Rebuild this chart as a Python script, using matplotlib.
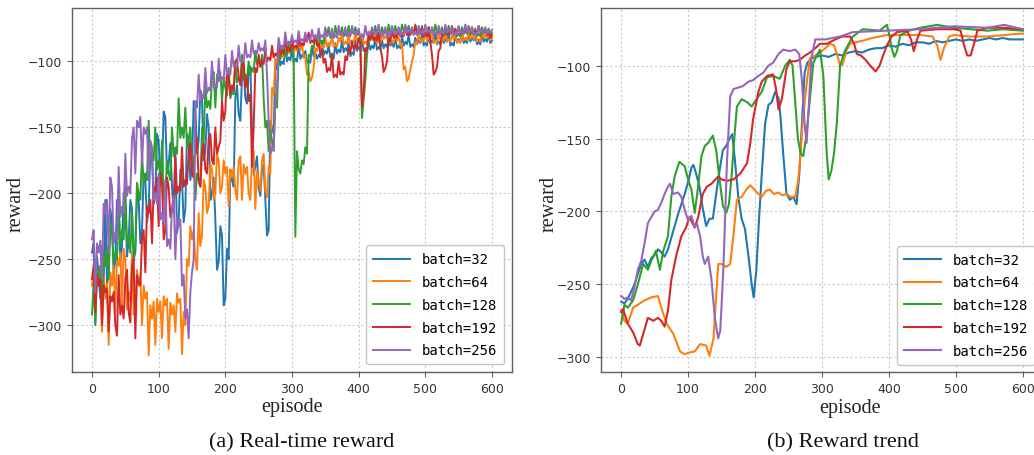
import matplotlib
matplotlib.use("Agg")
import matplotlib.pyplot as plt

# ---------------- data ----------------
labels = ["batch=32", "batch=64", "batch=128", "batch=192", "batch=256"]
colors = ["#1f77b4", "#ff7f0e", "#2ca02c", "#d62728", "#9467bd"]

# (a) real-time reward: values at episodes 0,5,...,600 and at 2.5,7.5,...,597.5
raw_episodes = list(range(0, 601, 5))
mid_episodes = [e + 2.5 for e in range(0, 600, 5)]

raw_32 = [
    -245, -300, -262, -240, -205, -258, -222, -250, -215, -240,
    -208, -236, -212, -245, -205, -228, -190, -212, -172, -200,
    -160, -185, -142, -178, -195, -168, -222, -190, -212, -160,
    -180, -135, -160, -128, -168, -150, -200, -220, -252, -232,
    -280, -250, -190, -128, -140, -112, -128, -108, -150, -180,
    -196, -182, -205, -228, -150, -102, -92, -100, -88, -97,
    -90, -98, -88, -95, -92, -99, -88, -93, -95, -86,
    -92, -88, -95, -86, -91, -84, -90, -86, -93, -84,
    -89, -83, -90, -85, -88, -82, -89, -84, -87, -81,
    -86, -82, -88, -81, -85, -80, -87, -82, -84, -79,
    -86, -80, -84, -79, -85, -80, -83, -78, -86, -80,
    -83, -78, -84, -79, -82, -80, -85, -79, -83, -80, -84]
mid_32 = [
    -238, -248, -280, -268, -270, -212, -262, -205, -252, -200,
    -248, -205, -250, -200, -238, -185, -222, -168, -208, -155,
    -192, -138, -185, -162, -215, -230, -182, -222, -155, -190,
    -130, -170, -122, -175, -140, -205, -188, -258, -225, -285,
    -242, -182, -195, -118, -145, -105, -132, -104, -186, -172,
    -202, -178, -232, -145, -155, -106, -103, -102, -100, -99,
    -101, -100, -98, -97, -101, -101, -96, -98, -97, -95,
    -94, -97, -98, -94, -93, -93, -92, -96, -95, -92,
    -91, -92, -92, -91, -90, -91, -91, -90, -89, -88,
    -89, -90, -90, -88, -87, -89, -89, -87, -86, -88,
    -88, -86, -86, -87, -87, -86, -85, -88, -88, -85,
    -85, -86, -86, -85, -84, -87, -87, -85, -85, -86]

raw_64 = [
    -270, -295, -265, -305, -280, -315, -270, -290, -255, -285,
    -250, -275, -245, -285, -270, -300, -280, -323, -295, -315,
    -290, -310, -285, -318, -292, -305, -283, -322, -300, -255,
    -235, -250, -215, -232, -195, -210, -182, -200, -175, -195,
    -185, -210, -188, -198, -175, -205, -185, -200, -172, -212,
    -190, -175, -198, -180, -120, -98, -88, -95, -84, -92,
    -86, -90, -84, -88, -95, -108, -112, -90, -84, -88,
    -82, -86, -80, -87, -82, -78, -85, -80, -84, -78,
    -83, -79, -85, -77, -82, -79, -84, -78, -81, -77,
    -84, -79, -82, -86, -104, -113, -100, -85, -79, -83,
    -78, -82, -77, -84, -79, -82, -77, -83, -80, -78,
    -84, -79, -82, -77, -81, -78, -83, -77, -80, -78, -82]
mid_64 = [
    -258, -258, -255, -262, -268, -260, -255, -248, -245, -242,
    -288, -282, -292, -258, -262, -270, -275, -285, -282, -280,
    -282, -278, -280, -283, -285, -276, -280, -290, -250, -225,
    -228, -258, -240, -190, -215, -178, -205, -170, -200, -175,
    -180, -182, -180, -205, -172, -178, -180, -205, -168, -183,
    -198, -170, -203, -185, -125, -102, -98, -97, -95, -94,
    -93, -92, -91, -97, -110, -115, -105, -92, -90, -90,
    -89, -88, -89, -89, -85, -87, -87, -86, -86, -85,
    -85, -87, -87, -84, -84, -86, -86, -83, -83, -86,
    -86, -84, -88, -106, -115, -106, -95, -87, -85, -85,
    -84, -84, -86, -86, -84, -84, -85, -85, -83, -86,
    -86, -84, -84, -83, -83, -85, -85, -82, -82, -84]

raw_128 = [
    -292, -298, -270, -285, -255, -265, -230, -245, -205, -228,
    -195, -232, -215, -240, -200, -170, -185, -145, -170, -150,
    -175, -160, -200, -185, -150, -165, -128, -150, -135, -160,
    -180, -205, -190, -150, -118, -130, -112, -135, -115, -130,
    -120, -105, -122, -100, -112, -95, -110, -100, -105, -92,
    -98, -95, -150, -168, -160, -130, -95, -88, -92, -85,
    -90, -233, -182, -175, -165, -95, -88, -82, -78, -84,
    -77, -74, -80, -73, -78, -74, -79, -73, -77, -74,
    -78, -143, -115, -82, -76, -73, -79, -74, -77, -72,
    -76, -73, -78, -72, -75, -73, -77, -72, -76, -73,
    -78, -74, -76, -72, -77, -74, -78, -73, -77, -75,
    -79, -74, -77, -73, -78, -75, -79, -74, -77, -75, -78]
mid_128 = [
    -268, -258, -255, -248, -240, -222, -252, -250, -240, -235,
    -238, -245, -248, -192, -205, -192, -190, -178, -175, -182,
    -188, -205, -175, -190, -172, -170, -158, -158, -165, -150,
    -172, -185, -195, -160, -135, -136, -108, -110, -108, -112,
    -126, -128, -125, -116, -115, -114, -113, -110, -108, -102,
    -104, -128, -145, -152, -165, -135, -98, -95, -95, -93,
    -94, -168, -185, -178, -170, -96, -90, -85, -86, -86,
    -80, -82, -82, -80, -80, -81, -81, -79, -79, -80,
    -82, -128, -95, -84, -79, -81, -81, -79, -79, -78,
    -78, -80, -80, -77, -77, -79, -79, -78, -78, -80,
    -80, -78, -78, -79, -79, -80, -80, -79, -79, -81,
    -81, -79, -79, -80, -80, -81, -81, -79, -79, -80]

raw_192 = [
    -265, -290, -270, -300, -275, -305, -282, -300, -262, -285,
    -265, -290, -255, -310, -268, -235, -260, -215, -238, -200,
    -225, -192, -228, -195, -210, -172, -195, -165, -190, -170,
    -185, -162, -190, -170, -182, -158, -175, -150, -165, -130,
    -138, -112, -118, -100, -112, -103, -120, -130, -180, -105,
    -95, -100, -90, -97, -88, -94, -85, -92, -82, -90,
    -84, -88, -80, -86, -82, -78, -84, -80, -86, -92,
    -98, -105, -94, -110, -100, -108, -96, -90, -85, -88,
    -82, -135, -90, -80, -77, -82, -78, -96, -105, -82,
    -76, -80, -75, -79, -74, -78, -76, -73, -77, -75,
    -79, -74, -95, -108, -92, -78, -74, -77, -73, -76,
    -74, -77, -73, -76, -74, -77, -73, -76, -75, -78, -80]
mid_192 = [
    -255, -262, -265, -270, -272, -278, -275, -308, -292, -295,
    -258, -298, -250, -262, -270, -228, -210, -205, -195, -188,
    -185, -235, -188, -218, -215, -200, -198, -195, -193, -162,
    -188, -158, -195, -162, -185, -155, -178, -170, -160, -145,
    -108, -125, -122, -98, -118, -100, -112, -125, -150, -108,
    -104, -102, -100, -99, -97, -96, -95, -94, -92, -92,
    -90, -90, -88, -88, -85, -86, -86, -88, -95, -101,
    -108, -107, -112, -112, -110, -110, -99, -93, -91, -90,
    -86, -125, -92, -83, -84, -84, -90, -108, -100, -85,
    -82, -82, -81, -81, -80, -80, -78, -79, -79, -81,
    -81, -85, -110, -104, -90, -80, -79, -79, -78, -78,
    -79, -79, -78, -78, -79, -79, -78, -78, -80, -82]

raw_256 = [
    -235, -275, -245, -265, -215, -245, -195, -230, -180, -210,
    -170, -195, -158, -185, -150, -178, -155, -190, -165, -200,
    -185, -215, -190, -235, -210, -250, -225, -270, -295, -310,
    -260, -130, -110, -125, -105, -120, -100, -118, -98, -112,
    -95, -108, -92, -102, -88, -98, -86, -95, -84, -92,
    -86, -90, -84, -145, -165, -130, -82, -88, -78, -85,
    -80, -84, -77, -83, -78, -82, -76, -81, -75, -80,
    -74, -79, -75, -80, -73, -78, -74, -79, -73, -77,
    -75, -80, -73, -78, -74, -77, -72, -78, -74, -79,
    -73, -77, -74, -78, -72, -76, -74, -78, -73, -77,
    -72, -76, -74, -78, -73, -77, -72, -76, -74, -78,
    -73, -77, -72, -76, -74, -78, -73, -76, -74, -77, -76]
mid_256 = [
    -228, -238, -236, -208, -205, -188, -238, -236, -218, -215,
    -202, -200, -150, -145, -142, -150, -150, -160, -205, -208,
    -220, -222, -240, -242, -202, -218, -220, -262, -288, -275,
    -250, -135, -130, -128, -124, -122, -120, -120, -115, -114,
    -110, -110, -104, -104, -100, -100, -97, -97, -94, -94,
    -92, -92, -110, -170, -168, -120, -90, -90, -87, -87,
    -86, -86, -85, -85, -84, -84, -83, -83, -82, -82,
    -81, -81, -82, -82, -80, -80, -81, -81, -79, -79,
    -82, -82, -80, -80, -79, -79, -80, -80, -81, -81,
    -79, -79, -80, -80, -78, -78, -80, -80, -79, -79,
    -78, -78, -80, -80, -79, -79, -78, -78, -80, -80,
    -79, -79, -78, -78, -80, -80, -78, -78, -79, -78]

# (b) reward trend (smoothed)
tr_ep_32 = [0, 5, 10, 15, 20, 25, 30, 35, 40, 45, 50, 55, 60, 65, 70, 75, 80, 85, 90, 95,
            100, 105, 108, 112, 117, 122, 127, 132, 137, 142, 147, 152, 157, 162, 166, 170,
            175, 180, 185, 190, 195, 198, 202, 206, 210, 215, 220, 225, 230, 235, 238, 242,
            247, 252, 257, 262, 266, 270, 274, 278, 285, 290, 300, 310, 320, 330, 340, 350,
            360, 370, 380, 390, 400, 410, 420, 430, 440, 450, 460, 470, 480, 490, 500, 510,
            520, 530, 540, 550, 560, 570, 580, 590, 600]
tr_32 = [-262, -263, -260, -255, -250, -243, -236, -233, -238, -232, -230, -226, -228, -231,
         -226, -218, -210, -202, -195, -188, -180, -170, -168, -174, -183, -198, -210, -205,
         -205, -188, -172, -158, -155, -150, -147, -165, -190, -205, -212, -230, -250, -259,
         -240, -205, -175, -140, -127, -125, -118, -122, -135, -160, -188, -192, -190, -195,
         -175, -140, -105, -98, -95, -94, -93, -94, -92, -93, -91, -90, -91, -89, -88, -88,
         -86, -87, -85, -86, -84, -84, -85, -83, -84, -83, -82, -83, -82, -83, -82, -81,
         -82, -81, -82, -82, -82]
tr_ep_64 = [0, 5, 10, 18, 25, 35, 45, 55, 60, 68, 78, 88, 95, 100, 110, 118, 127, 132, 138,
            145, 150, 157, 163, 168, 173, 180, 187, 193, 197, 203, 210, 216, 222, 228, 235,
            241, 247, 253, 260, 264, 267, 271, 275, 279, 282, 290, 297, 305, 312, 318, 323,
            327, 331, 336, 342, 350, 360, 375, 397, 420, 447, 465, 472, 477, 482, 490, 497,
            520, 547, 572, 597, 600]
tr_64 = [-268, -275, -277, -266, -264, -261, -259, -258, -266, -277, -284, -296, -298, -297,
         -296, -291, -292, -299, -287, -236, -236, -238, -236, -215, -192, -190, -185, -182,
         -184, -187, -190, -186, -185, -188, -187, -189, -188, -190, -190, -180, -167, -140,
         -121, -105, -95, -93, -91, -88, -85, -86, -93, -100, -99, -90, -85, -84, -83, -81,
         -79, -79, -79, -80, -86, -96, -88, -80, -79, -80, -80, -79, -78, -78]
tr_ep_128 = [0, 5, 10, 18, 25, 33, 40, 45, 52, 58, 63, 70, 75, 80, 87, 95, 100, 105, 110,
             115, 120, 125, 130, 137, 142, 147, 152, 157, 161, 165, 169, 173, 180, 188, 195,
             202, 210, 218, 227, 237, 245, 252, 256, 260, 264, 268, 272, 276, 280, 287, 297,
             302, 307, 310, 314, 318, 322, 327, 334, 346, 361, 386, 397, 401, 404, 408, 412,
             417, 430, 447, 472, 497, 522, 547, 570, 600]
tr_128 = [-277, -264, -266, -261, -250, -236, -240, -234, -227, -240, -227, -217, -190, -176,
          -166, -169, -178, -185, -201, -183, -162, -155, -153, -148, -158, -178, -196, -201,
          -195, -176, -150, -128, -123, -125, -128, -123, -118, -108, -107, -109, -100, -96,
          -100, -125, -150, -160, -162, -150, -132, -98, -89, -107, -160, -178, -172, -160,
          -140, -100, -90, -80, -75, -76, -72, -80, -88, -94, -90, -79, -76, -74, -72, -74,
          -75, -76, -75, -76]
tr_ep_192 = [0, 3, 10, 18, 25, 28, 33, 40, 48, 55, 60, 65, 70, 75, 82, 90, 97, 102, 110, 115,
             122, 128, 135, 145, 150, 158, 168, 178, 188, 193, 197, 205, 210, 218, 227, 231,
             235, 240, 247, 252, 260, 267, 275, 282, 290, 297, 307, 320, 330, 342, 348, 352,
             358, 365, 372, 380, 386, 392, 397, 404, 412, 427, 433, 437, 442, 447, 472, 497,
             507, 512, 517, 522, 527, 532, 547, 572, 600]
tr_192 = [-269, -267, -277, -283, -291, -292, -284, -273, -275, -273, -275, -279, -268, -247,
          -231, -217, -211, -204, -211, -204, -188, -183, -181, -176, -178, -179, -178, -174,
          -167, -153, -137, -118, -111, -107, -106, -115, -130, -123, -102, -97, -97, -96,
          -93, -91, -88, -85, -85, -82, -80, -80, -85, -92, -93, -96, -100, -104, -100, -92,
          -86, -80, -77, -76, -82, -90, -82, -76, -75, -75, -76, -86, -93, -93, -85, -76,
          -74, -74, -75]
tr_ep_256 = [0, 5, 10, 15, 20, 25, 30, 35, 40, 45, 50, 55, 60, 65, 70, 73, 78, 85, 90, 95,
             100, 105, 110, 113, 118, 122, 125, 130, 135, 140, 145, 148, 150, 153, 158, 163,
             168, 175, 182, 190, 197, 205, 212, 220, 227, 235, 242, 252, 260, 266, 270, 274,
             277, 280, 284, 290, 305, 327, 346, 397, 447, 497, 547, 572, 600]
tr_256 = [-258, -260, -259, -261, -252, -240, -234, -222, -208, -204, -200, -199, -194, -188,
          -183, -181, -188, -187, -190, -199, -206, -203, -211, -208, -217, -231, -236, -231,
          -247, -273, -287, -282, -265, -236, -167, -121, -116, -115, -114, -111, -110, -107,
          -105, -100, -98, -92, -89, -90, -89, -92, -110, -140, -153, -130, -95, -82, -82,
          -80, -77, -76, -75, -73, -74, -72, -75]

raw_series = [raw_32, raw_64, raw_128, raw_192, raw_256]
mid_series = [mid_32, mid_64, mid_128, mid_192, mid_256]
trend_eps = [tr_ep_32, tr_ep_64, tr_ep_128, tr_ep_192, tr_ep_256]
trend_series = [tr_32, tr_64, tr_128, tr_192, tr_256]

x_ticks = [0, 100, 200, 300, 400, 500, 600]
y_ticks = [-300, -250, -200, -150, -100]
captions = ["(a) Real-time reward", "(b) Reward trend"]


def interleave(a_x, a_y, b_x, b_y):
    pts = sorted(list(zip(a_x, a_y)) + list(zip(b_x, b_y)))
    return [p[0] for p in pts], [p[1] for p in pts]


# ---------------- figure ----------------
W, H = 1034, 456
fig = plt.figure(figsize=(W / 100, H / 100), dpi=100)

serif = ["Liberation Serif", "DejaVu Serif"]
spine_col = "#5f5f5f"
tick_col = "#333333"


def style(ax):
    for s in ax.spines.values():
        s.set_color(spine_col)
        s.set_linewidth(1.0)
    ax.grid(True, color="#c8c8c8", linestyle=(0, (2, 2)), linewidth=0.8)
    ax.set_axisbelow(True)
    ax.tick_params(labelsize=9, colors=spine_col, labelcolor=tick_col, length=3.5)
    ax.set_xticks(x_ticks)
    ax.set_yticks(y_ticks)
    ax.set_xlabel("episode", family=serif, fontsize=14.5, color="#222222")
    ax.set_ylabel("reward", family=serif, fontsize=14.5, color="#222222")
    ax.legend(loc="lower right", prop={"family": "DejaVu Sans Mono", "size": 10},
              handlelength=2.65, handletextpad=0.9, labelspacing=0.63,
              borderpad=0.5, borderaxespad=0.55, framealpha=0.9, edgecolor="#c0c0c0")


ax1 = fig.add_axes([72 / W, 1 - 373 / H, 440 / W, 364 / H])
for ys, ms, c, lab in zip(raw_series, mid_series, colors, labels):
    xs, vs = interleave(raw_episodes, ys, mid_episodes, ms)
    ax1.plot(xs, vs, color=c, lw=1.4, label=lab)
ax1.margins(x=0.05, y=0.05)
style(ax1)
ax1.yaxis.set_label_coords(-0.105, 0.465)
ax1.xaxis.set_label_coords(0.5, -0.07)

ax2 = fig.add_axes([601 / W, 1 - 373.3 / H, 442 / W, 364 / H])
for xs, ys, c, lab in zip(trend_eps, trend_series, colors, labels):
    ax2.plot(xs, ys, color=c, lw=1.5, label=lab)
ax2.margins(x=0.05, y=0.05)
style(ax2)
ax2.yaxis.set_label_coords(-0.097, 0.465)
ax2.xaxis.set_label_coords(0.563, -0.07)

fig.text(302 / W, 1 - 443 / H, captions[0], family=serif, fontsize=16,
         ha="center", va="center", color="#111111")
fig.text(843 / W, 1 - 443 / H, captions[1], family=serif, fontsize=16,
         ha="center", va="center", color="#111111")

fig.savefig("out.png", dpi=100)
